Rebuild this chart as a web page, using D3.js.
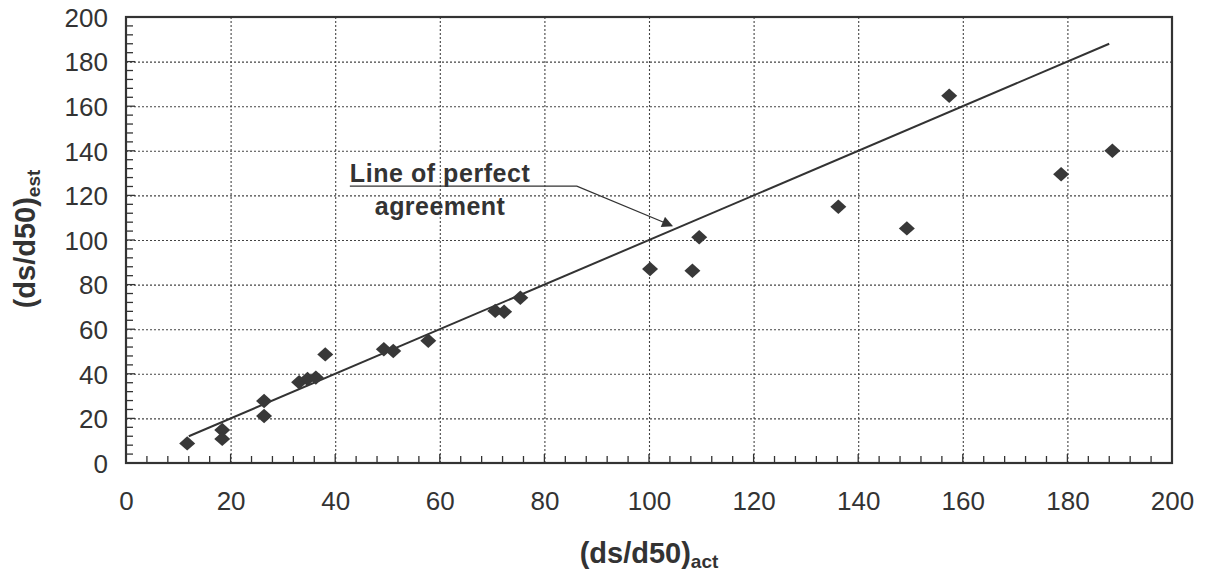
<!DOCTYPE html>
<html>
<head>
<meta charset="utf-8">
<script src="https://cdn.jsdelivr.net/npm/d3@7"></script>
<style>
  body { margin: 0; background: #fff; }
  .tick text { font-family: "Liberation Sans", Arial, sans-serif; font-size: 26px; fill: #333; }
  .grid line { stroke: #444; stroke-width: 1.1; stroke-dasharray: 2,2; }
  .grid path { display: none; }
</style>
</head>
<body>
<div class="chart1"></div>
<script>
// measured points (ds/d50)act vs (ds/d50)est
var actual = [11.7, 18.4, 18.4, 26.4, 26.4, 33.1, 34.7, 36.3, 38.1, 49.3, 51.1, 57.8, 70.6, 72.3, 75.4,
  100.2, 108.3, 109.6, 136.2, 149.3, 157.4, 178.8, 188.6];
var estimated = [8.8, 14.8, 10.8, 27.8, 21.1, 36.2, 37.7, 38.3, 48.7, 51.0, 50.2, 54.8, 68.2, 67.8, 74.1,
  87.0, 86.2, 101.2, 114.9, 105.2, 164.7, 129.5, 140.0];
var perfectLine = [12, 188];
var xTicks = [0, 20, 40, 60, 80, 100, 120, 140, 160, 180, 200];
var yTicks = [0, 20, 40, 60, 80, 100, 120, 140, 160, 180, 200];

var margin = { top: 17, right: 35, bottom: 111, left: 126 };
var width = 1207 - margin.left - margin.right;
var height = 574 - margin.top - margin.bottom;

var xScale = d3.scaleLinear().domain([0, 200]).range([0, width]);
var yScale = d3.scaleLinear().domain([0, 200]).range([height, 0]);

var svg = d3.select('.chart1')
  .append('svg')
  .attr("width", 1207)
  .attr("height", 574);

var chart = svg.append("g")
  .attr("transform", "translate(" + margin.left + "," + margin.top + ")");

/* grid */
chart.append("g")
  .attr("class", "grid")
  .attr("transform", "translate(0," + height + ")")
  .call(d3.axisBottom(xScale).tickValues(xTicks.slice(1, -1)).tickSize(-height).tickFormat(""));

chart.append("g")
  .attr("class", "grid")
  .call(d3.axisLeft(yScale).tickValues(yTicks.slice(1, -1)).tickSize(-width).tickFormat(""));

/* minor ticks, pointing inward */
var minor = d3.range(0, 201, 4);
chart.append("g")
  .attr("transform", "translate(0," + height + ")")
  .selectAll("line")
  .data(minor)
  .enter().append("line")
  .attr("x1", function (d) { return xScale(d); })
  .attr("x2", function (d) { return xScale(d); })
  .attr("y1", 0)
  .attr("y2", function (d) { return d % 20 === 0 ? -9 : -7; })
  .attr("stroke", "#333")
  .attr("stroke-width", 1.3);

chart.append("g")
  .selectAll("line")
  .data(minor)
  .enter().append("line")
  .attr("y1", function (d) { return yScale(d); })
  .attr("y2", function (d) { return yScale(d); })
  .attr("x1", 0)
  .attr("x2", function (d) { return d % 20 === 0 ? 9 : 7; })
  .attr("stroke", "#333")
  .attr("stroke-width", 1.3);

/* frame */
chart.append("rect")
  .attr("width", width)
  .attr("height", height)
  .attr("fill", "none")
  .attr("stroke", "#333")
  .attr("stroke-width", 2.2);

/* tick labels */
chart.append("g")
  .attr("transform", "translate(0," + height + ")")
  .call(d3.axisBottom(xScale).tickValues(xTicks).tickSize(0).tickPadding(29))
  .call(function (g) { g.select(".domain").remove(); });

chart.append("g")
  .call(d3.axisLeft(yScale).tickValues(yTicks).tickSize(0).tickPadding(18))
  .call(function (g) { g.select(".domain").remove(); })
  .selectAll("text").attr("dy", "0.36em");

/* line of perfect agreement */
chart.append("line")
  .attr("x1", xScale(perfectLine[0]))
  .attr("y1", yScale(perfectLine[0]))
  .attr("x2", xScale(perfectLine[1]))
  .attr("y2", yScale(perfectLine[1]))
  .attr("stroke", "#333")
  .attr("stroke-width", 2);

/* points */
var points = actual.map(function (d, i) { return { x: d, y: estimated[i] }; });
chart.selectAll(".pt")
  .data(points)
  .enter().append("path")
  .attr("class", "pt")
  .attr("d", d3.symbol(d3.symbolSquare, 128))
  .attr("transform", function (d) {
    return "translate(" + xScale(d.x) + "," + yScale(d.y) + ") scale(1,0.9) rotate(45)";
  })
  .attr("fill", "#383838");

/* annotation */
var leader = [[42.8, 124.2], [86.2, 124.2], [104.4, 106.4]];
var leaderLine = d3.line()
  .x(function (d) { return xScale(d[0]); })
  .y(function (d) { return yScale(d[1]); });

svg.append("defs").append("marker")
  .attr("id", "arrow")
  .attr("viewBox", "0 0 10 10")
  .attr("refX", 9)
  .attr("refY", 5)
  .attr("markerWidth", 13)
  .attr("markerHeight", 11)
  .attr("markerUnits", "userSpaceOnUse")
  .attr("orient", "auto")
  .append("path")
  .attr("d", "M0,0 L10,5 L0,10 Z")
  .attr("fill", "#333");

chart.append("path")
  .attr("d", leaderLine(leader))
  .attr("fill", "none")
  .attr("stroke", "#333")
  .attr("stroke-width", 1.3)
  .attr("marker-end", "url(#arrow)");

var note = chart.append("g")
  .style("font-family", "'Liberation Sans', Arial, sans-serif")
  .style("font-weight", "bold")
  .style("font-size", "25px")
  .attr("fill", "#333")
  .attr("text-anchor", "middle");
note.append("text")
  .attr("x", xScale(60))
  .attr("y", yScale(126))
  .attr("textLength", 180)
  .text("Line of perfect");
note.append("text")
  .attr("x", xScale(60))
  .attr("y", yScale(111.2))
  .attr("textLength", 130)
  .text("agreement");

/* axis titles */
var xt = svg.append("text")
  .attr("x", 649)
  .attr("y", 563)
  .attr("text-anchor", "middle")
  .attr("fill", "#333")
  .style("font-family", "'Liberation Sans', Arial, sans-serif")
  .style("font-weight", "bold")
  .style("font-size", "29px");
xt.append("tspan").text("(ds/d50)");
xt.append("tspan").attr("dy", 5).style("font-size", "19px").text("act");

var yt = svg.append("text")
  .attr("transform", "translate(35,239) rotate(-90)")
  .attr("text-anchor", "middle")
  .attr("fill", "#333")
  .style("font-family", "'Liberation Sans', Arial, sans-serif")
  .style("font-weight", "bold")
  .style("font-size", "29px");
yt.append("tspan").text("(ds/d50)");
yt.append("tspan").attr("dy", 5).style("font-size", "19px").text("est");
</script>
</body>
</html>
